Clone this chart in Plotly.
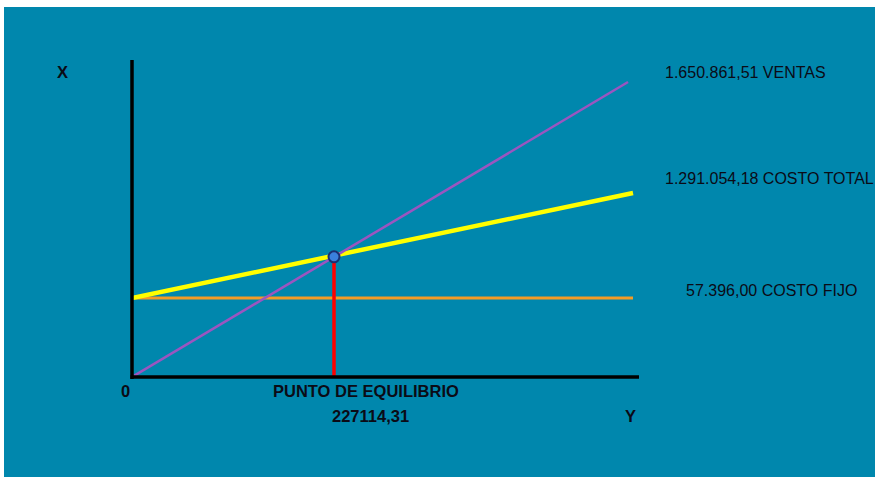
import plotly.graph_objects as go

# ---- data (schematic break-even chart) ----
ventas_x = [0, 557700]
ventas_y = [0, 214300]
costo_total_x = [0, 563300]
costo_total_y = [57396, 133700]
costo_fijo_x = [0, 563300]
costo_fijo_y = [57396, 57396]
equilibrio_x = [227114.31]
equilibrio_y = [87300]

label_ventas = "1.650.861,51 VENTAS"
label_total = "1.291.054,18 COSTO TOTAL"
label_fijo = "57.396,00 COSTO FIJO"
label_pe = "PUNTO DE EQUILIBRIO"
label_pe_val = "227114,31"

W, H = 875, 477
L, R, T, B = 132, 639, 60, 377  # plot area in pixels
PW, PH = R - L, B - T
TEAL = "#0087AD"


def px(xp):
    return (xp - L) / PW


def py(yp):
    return (B - yp) / PH


fig = go.Figure()

fig.add_trace(go.Scatter(x=costo_fijo_x, y=costo_fijo_y, mode="lines",
                         line=dict(color="#F39C26", width=3), hoverinfo="skip"))
fig.add_trace(go.Scatter(x=costo_total_x, y=costo_total_y, mode="lines",
                         line=dict(color="#FFFF00", width=4.5), hoverinfo="skip"))
fig.add_trace(go.Scatter(x=ventas_x, y=ventas_y, mode="lines",
                         line=dict(color="#9B55C0", width=2.5), hoverinfo="skip"))
fig.add_trace(go.Scatter(x=[equilibrio_x[0], equilibrio_x[0]], y=[0, equilibrio_y[0]],
                         mode="lines", line=dict(color="#FF0000", width=3.5),
                         hoverinfo="skip"))
fig.add_trace(go.Scatter(x=equilibrio_x, y=equilibrio_y, mode="markers",
                         marker=dict(size=11, color="#3A80DC",
                                     line=dict(color="#1B2F70", width=2)),
                         hoverinfo="skip", cliponaxis=False))

# teal background panel (white strip on top and left)
fig.add_shape(type="rect", xref="paper", yref="paper", layer="below",
              x0=px(4), x1=px(W + 5), y0=py(H + 5), y1=py(7),
              fillcolor=TEAL, line=dict(width=0))

# axis lines (centred on the plot edges)
fig.add_shape(type="line", xref="paper", yref="paper", layer="above",
              x0=0, x1=0, y0=py(379), y1=1,
              line=dict(color="#000000", width=3.5))
fig.add_shape(type="line", xref="paper", yref="paper", layer="above",
              x0=px(130.5), x1=1, y0=0, y1=0,
              line=dict(color="#000000", width=3.5))

TXT = "#0b0b16"
FONT = "Liberation Sans, Arial, sans-serif"


def ann(text, xp, yp, xanchor="center", bold=False, size=16):
    fig.add_annotation(text=f"<b>{text}</b>" if bold else text,
                       xref="paper", yref="paper", x=px(xp), y=py(yp),
                       xanchor=xanchor, yanchor="middle", showarrow=False,
                       font=dict(family=FONT, size=size, color=TXT))


ann("X", 62, 72, bold=True, size=16.5)
ann("0", 125, 391, bold=True, size=16.5)
ann(label_pe, 366, 391, bold=True, size=16.5)
ann(label_pe_val, 370, 416, bold=True, size=16.5)
ann("Y", 630, 416, bold=True, size=16.5)
ann(label_ventas, 663, 72, xanchor="left")
ann(label_total, 663, 178, xanchor="left")
ann(label_fijo, 684, 290, xanchor="left")

x_per_px = equilibrio_x[0] / (334 - L)
y_per_px = costo_fijo_y[0] / (B - 298)

fig.update_xaxes(range=[0, PW * x_per_px], showgrid=False, zeroline=False,
                 showticklabels=False, ticks="", showline=False, fixedrange=True)
fig.update_yaxes(range=[0, PH * y_per_px], showgrid=False, zeroline=False,
                 showticklabels=False, ticks="", showline=False, fixedrange=True)

fig.update_layout(width=W, height=H, showlegend=False,
                  margin=dict(l=L, r=W - R, t=T, b=H - B, pad=0),
                  paper_bgcolor="#FFFFFF", plot_bgcolor="rgba(0,0,0,0)")

fig.write_html("out.html", config={"displayModeBar": False})
